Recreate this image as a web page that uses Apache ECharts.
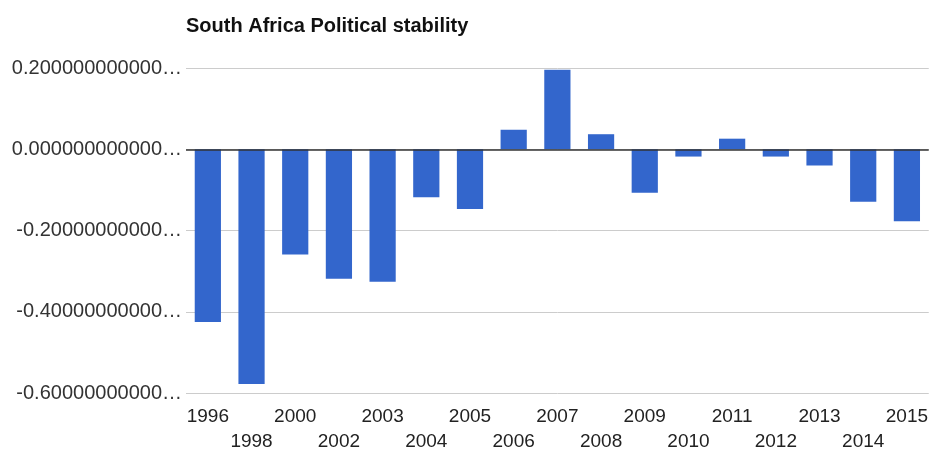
<!DOCTYPE html>
<html>
<head>
<meta charset="utf-8">
<script src="https://cdn.jsdelivr.net/npm/echarts@6/dist/echarts.min.js"></script>
<style>
  html, body { margin: 0; padding: 0; background: #fff; }
  #chart { width: 931px; height: 454px; }
</style>
</head>
<body>
<div id="chart"></div>
<script>
// Political stability estimate by year
var years = ['1996', '1998', '2000', '2002', '2003', '2004', '2005', '2006', '2007',
             '2008', '2009', '2010', '2011', '2012', '2013', '2014', '2015'];
var stability = [-0.425, -0.578, -0.259, -0.319, -0.326, -0.118, -0.147, 0.048, 0.196,
                 0.037, -0.107, -0.018, 0.026, -0.018, -0.040, -0.129, -0.177];
// Tick labels as shown on the value axis (truncated long decimals)
var yTickLabels = ['-0.60000000000\u2026', '-0.40000000000\u2026', '-0.20000000000\u2026',
                   '0.000000000000\u2026', '0.200000000000\u2026'];

var chart = echarts.init(document.getElementById('chart'), null, { renderer: 'canvas' });
var FONT = 'Liberation Sans, Arial, sans-serif';

chart.setOption({
  animation: false,
  backgroundColor: '#ffffff',
  title: {
    text: 'South Africa Political stability',
    left: 181,
    top: 11,
    textStyle: { fontFamily: FONT, fontSize: 20, fontWeight: 'bold', color: '#111' }
  },
  grid: { left: 186, right: 1, top: 68, bottom: 56, containLabel: false },
  xAxis: {
    type: 'category',
    data: years,
    axisLine: { show: false, onZero: false },
    axisTick: { show: false },
    axisLabel: {
      interval: 0,
      margin: 11,
      fontFamily: FONT,
      fontSize: 19,
      lineHeight: 25,
      color: '#222',
      formatter: function (v, i) { return i % 2 ? '\n' + v : v; }
    }
  },
  yAxis: {
    type: 'value',
    min: -0.6,
    max: 0.2,
    interval: 0.2,
    axisLine: { show: false },
    axisTick: { show: false },
    splitLine: { lineStyle: { color: '#cccccc', width: 1 } },
    axisLabel: {
      margin: 4,
      fontFamily: FONT,
      fontSize: 20,
      color: '#333',
      formatter: function (v, i) { return yTickLabels[i]; }
    }
  },
  series: [{
    type: 'bar',
    data: stability,
    barCategoryGap: '40%',
    itemStyle: { color: '#3366cc' },
    markLine: {
      silent: true,
      symbol: 'none',
      label: { show: false },
      lineStyle: { color: '#333333', width: 1.5, type: 'solid' },
      data: [{ yAxis: 0 }],
      z: 10
    }
  }]
});
</script>
</body>
</html>
